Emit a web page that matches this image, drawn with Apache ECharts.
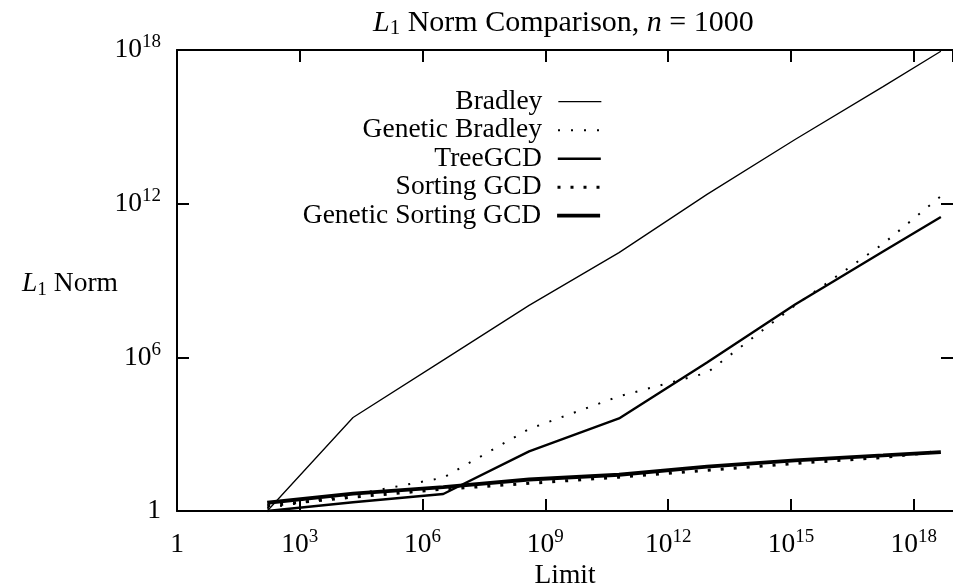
<!DOCTYPE html>
<html>
<head>
<meta charset="utf-8">
<script src="https://cdn.jsdelivr.net/npm/echarts@6/dist/echarts.min.js"></script>
<style>
  html, body { margin: 0; padding: 0; background: #fff; }
  #chart { width: 953px; height: 587px; }
</style>
</head>
<body>
<div id="chart"></div>
<script>
// 数据：x为Limit，y为L1 Norm（均为对数坐标）
var limits = [1.6e2, 2.0e4, 3.2e6, 4.0e8, 6.3e10, 8.9e12, 1.26e15, 1.78e17, 4.6e18];
var bradley = [1, 4.5e3, 7.8e5, 1.07e8, 1.23e10, 2.3e12, 3.2e14, 3.7e16, 8.9e17];
var genetic_bradley = [1.3, 4.3, 20, 1.6e3, 3.0e4, 2.5e5, 1.07e8, 2.7e10, 1.95e12];
var tree_gcd = [1, 2.2, 4.6, 214, 4.1e3, 6.3e5, 1.15e8, 1.35e10, 3.0e11];
var sorting_gcd = [1.6, 3.5, 7.1, 12, 21, 39, 72, 123, 214];
var genetic_sorting_gcd = [2.1, 4.8, 8.5, 17, 26, 54, 95, 148, 200];

var series_names = ['Bradley', 'Genetic Bradley', 'TreeGCD', 'Sorting GCD', 'Genetic Sorting GCD'];
var x_tick_exps = [0, 3, 6, 9, 12, 15, 18];
var y_tick_exps = [0, 6, 12, 18];

var FONT = '"Liberation Serif", "DejaVu Serif", serif';
var FS = 27.5;

// 各曲线线型：宽度、虚线样式
var line_widths = [1.3, 2, 2.4, 3, 3.8];
var line_types = ['solid', [2, 11], 'solid', [3, 10], 'solid'];

function pairs(ys) {
    var res = [];
    for (var i = 0; i < limits.length; i++) {
        res.push([limits[i], ys[i]]);
    }
    return res;
}

function tick_label(exps) {
    // 类似 10^n 的上标标签
    return function (value) {
        var e = Math.round(Math.log(value) / Math.LN10);
        if (exps.indexOf(e) < 0) return '';
        if (e === 0) return '{b|1}';
        return '{b|10}{sup|' + e + '}';
    };
}

var label_rich = {
    b: {fontFamily: FONT, fontSize: FS, lineHeight: 34, color: '#000'},
    sup: {fontFamily: FONT, fontSize: 19, lineHeight: 20, verticalAlign: 'top', color: '#000'}
};

function name_rich(fs) {
    return {
        i: {fontFamily: FONT, fontSize: fs, fontStyle: 'italic', fontWeight: 'normal', color: '#000', lineHeight: 32},
        r: {fontFamily: FONT, fontSize: fs, fontWeight: 'normal', color: '#000', lineHeight: 32},
        sub: {fontFamily: FONT, fontSize: fs * 0.7, fontWeight: 'normal', color: '#000', lineHeight: 14, verticalAlign: 'bottom'}
    };
}

var axis_line = {show: true, onZero: false, lineStyle: {color: '#000', width: 2}};
var axis_tick = {show: true, inside: true, length: 12, lineStyle: {color: '#000', width: 2}};

function line_series(i, ys) {
    return {
        name: series_names[i],
        type: 'line',
        data: pairs(ys),
        symbol: 'none',
        xAxisIndex: 0,
        yAxisIndex: 0,
        color: '#000',
        lineStyle: {color: '#000', width: line_widths[i], type: line_types[i], cap: 'butt'},
        animation: false
    };
}

function legend_item(i, center_y) {
    return {
        data: [series_names[i]],
        orient: 'vertical',
        right: 351,
        top: center_y - 14,
        align: 'right',
        padding: 0,
        itemWidth: 43,
        itemHeight: 2,
        itemStyle: {opacity: 0},
        lineStyle: {color: '#000', width: line_widths[i], type: line_types[i], cap: 'butt'},
        selectedMode: false,
        textStyle: {fontFamily: FONT, fontSize: FS, lineHeight: 28, color: '#000', padding: [0, 11, 0, 0]}
    };
}

var chart = echarts.init(document.getElementById('chart'));

var option = {
    backgroundColor: '#fff',
    animation: false,
    title: {
        text: '{i|L}{sub|1}{r| Norm Comparison, }{i|n}{r| = 1000}',
        left: 368,
        top: 2,
        textStyle: {fontWeight: 'normal', rich: name_rich(30)}
    },
    legend: [
        legend_item(0, 101.7),
        legend_item(1, 130.2),
        legend_item(2, 158.7),
        legend_item(3, 187.2),
        legend_item(4, 215.7)
    ],
    grid: {left: 177, top: 50, right: 0, bottom: 76, containLabel: false, outerBoundsMode: 'none'},
    xAxis: [
        {
            type: 'log', logBase: 10, min: 1, max: 9.1e18, interval: 3,
            position: 'bottom',
            name: 'Limit', nameLocation: 'middle', nameGap: 51, nameMoveOverlap: false,
            nameTextStyle: {fontFamily: FONT, fontSize: FS, color: '#000'},
            axisLine: axis_line, axisTick: axis_tick,
            axisLabel: {margin: 17, showMaxLabel: false, formatter: tick_label(x_tick_exps), rich: label_rich},
            splitLine: {show: false}, minorTick: {show: false}
        },
        {
            type: 'log', logBase: 10, min: 1, max: 9.1e18, interval: 3,
            position: 'top',
            axisLine: axis_line, axisTick: axis_tick,
            axisLabel: {show: false}, splitLine: {show: false}
        }
    ],
    yAxis: [
        {
            type: 'log', logBase: 10, min: 1, max: 1e18, interval: 6,
            position: 'left',
            name: '{i|L}{sub|1}{r| Norm}', nameLocation: 'middle', nameGap: 59, nameRotate: 0,
            nameMoveOverlap: false,
            nameTextStyle: {rich: name_rich(FS), padding: [6, 0, 0, 0]},
            axisLine: axis_line, axisTick: axis_tick,
            axisLabel: {margin: 16, formatter: tick_label(y_tick_exps), rich: label_rich},
            splitLine: {show: false}
        },
        {
            type: 'log', logBase: 10, min: 1, max: 1e18, interval: 6,
            position: 'right',
            axisLine: {show: false}, axisTick: axis_tick,
            axisLabel: {show: false}, splitLine: {show: false}
        }
    ],
    series: [
        line_series(0, bradley),
        line_series(1, genetic_bradley),
        line_series(2, tree_gcd),
        line_series(3, sorting_gcd),
        line_series(4, genetic_sorting_gcd)
    ]
};

chart.setOption(option);
</script>
</body>
</html>
